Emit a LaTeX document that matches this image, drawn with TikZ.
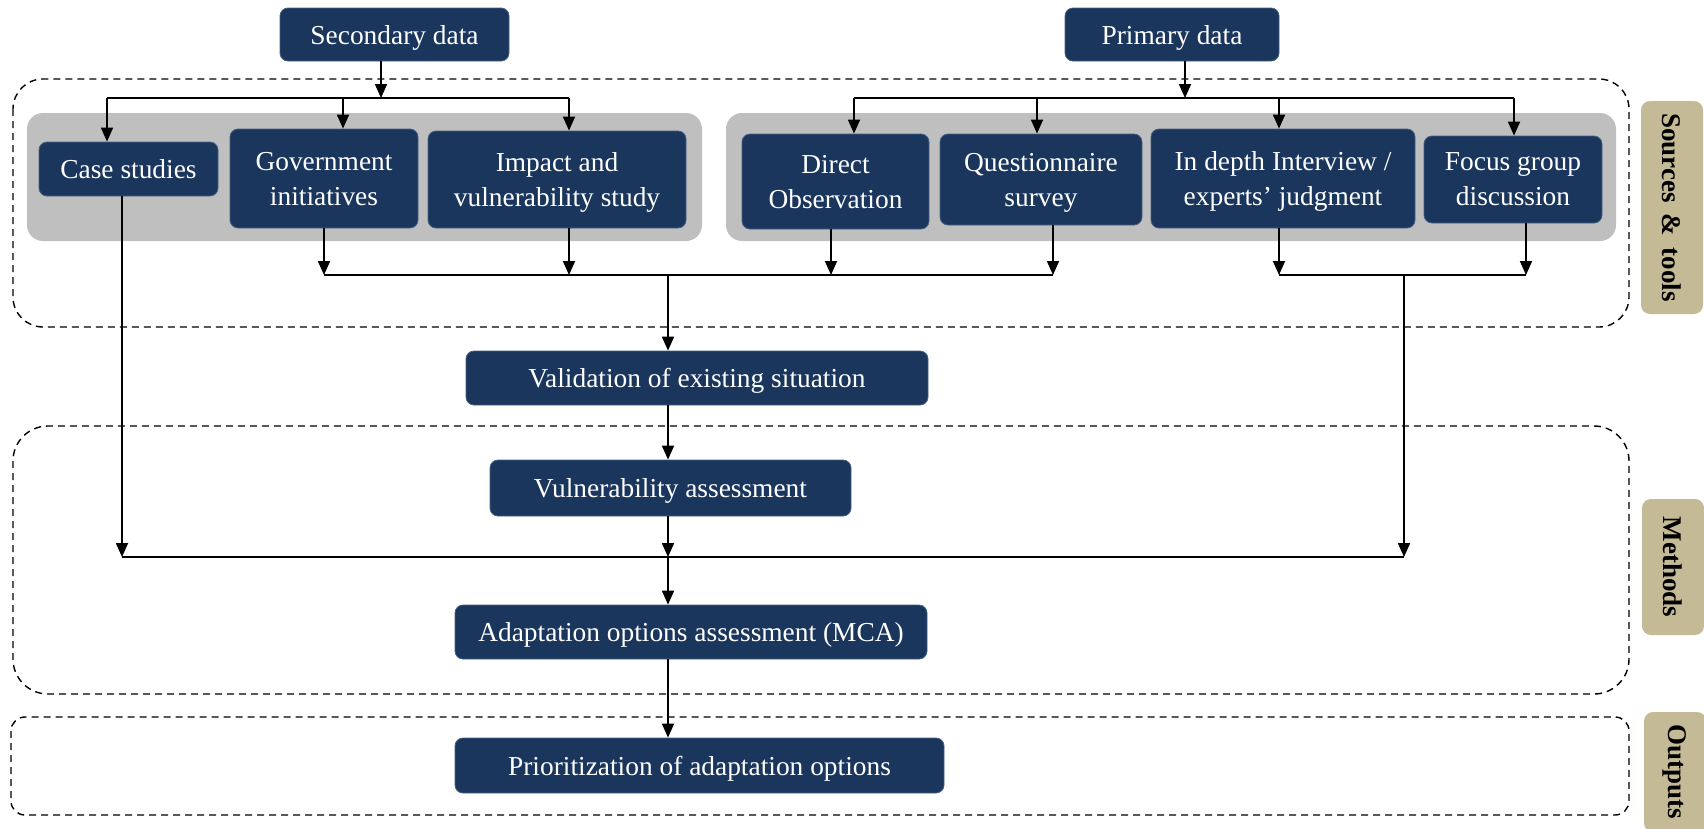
\documentclass[tikz,border=0pt]{standalone}
\usepackage{fontspec}
\setmainfont{Liberation Serif}
\usetikzlibrary{arrows.meta}
\definecolor{navy}{RGB}{26,54,93}
\definecolor{navyedge}{RGB}{70,95,130}
\definecolor{panelgrey}{RGB}{191,191,191}
\definecolor{tagtan}{RGB}{196,187,150}

\begin{document}
\begin{tikzpicture}[x=1pt,y=-1pt,
  box/.style={rectangle, rounded corners=8pt, fill=navy, draw=navyedge, line width=0.8pt,
    text=white, align=center, inner sep=0pt, text depth=0pt,
    font=\fontsize{27.4}{35}\selectfont},
  panel/.style={fill=panelgrey, rounded corners=16pt},
  zone/.style={draw=black, dash pattern=on 7pt off 5pt, line width=1.4pt},
  tag/.style={rectangle, rounded corners=9pt, fill=tagtan, rotate=-90, inner sep=0pt,
    minimum height=62pt, font=\fontsize{27}{32}\selectfont\bfseries},
  link/.style={line width=1.8pt},
  arr/.style={link, -{Triangle[length=14pt,width=12pt]}},
]
\useasboundingbox (0,0) rectangle (1704,828);
\clip (0,0) rectangle (1704,828);

% grey panels holding the source boxes
\fill[panel] (27,113) rectangle (702,241);
\fill[panel] (726,113) rectangle (1616,241);

% dashed zones
\draw[zone, rounded corners=30pt] (13,79) rectangle (1629,327);
\draw[zone, rounded corners=35pt] (13,426) rectangle (1629,694);
\draw[zone, rounded corners=14pt] (11,717) rectangle (1629,815);

% zone tags
\node[tag, minimum width=213pt] (tSrc) at (1672,207.5) {Sources \,\&\, tools};
\node[tag, minimum width=136pt] (tMet) at (1673,567) {Methods};
\node[tag, minimum width=120pt] (tOut) at (1675,772) {Outputs};

% data sources
\node[box, minimum width=229pt, minimum height=53pt] (sec) at (394.5,34.5) {Secondary data};
\node[box, minimum width=214pt, minimum height=53pt] (pri) at (1172,34.5) {Primary data};

\node[box, minimum width=179pt, minimum height=54pt] (case) at (128.5,169) {Case studies};
\node[box, minimum width=188pt, minimum height=99pt] (gov) at (324,178.5) {Government\\initiatives};
\node[box, minimum width=258pt, minimum height=97pt] (imp) at (557,179.5) {Impact and\\vulnerability study};

\node[box, minimum width=187pt, minimum height=95pt] (dir) at (835.5,181.5) {Direct\\Observation};
\node[box, minimum width=202pt, minimum height=91pt] (que) at (1041,179.5) {Questionnaire\\survey};
\node[box, minimum width=264pt, minimum height=99pt] (int) at (1283,178.5) {In depth Interview /\\experts' judgment};
\node[box, minimum width=178pt, minimum height=87pt] (foc) at (1513,179.5) {Focus group\\discussion};

% process steps
\node[box, minimum width=462pt, minimum height=54pt] (val) at (697,378) {Validation of existing situation};
\node[box, minimum width=361pt, minimum height=56pt] (vul) at (670.5,488) {Vulnerability assessment};
\node[box, minimum width=472pt, minimum height=54pt] (ada) at (691,632) {Adaptation options assessment (MCA)};
\node[box, minimum width=489pt, minimum height=55pt] (pio) at (699.5,765.5) {Prioritization of adaptation options};

% junction points of the connector buses
\coordinate (sbIn) at (381,98);
\coordinate (sbL) at (107,98);
\coordinate (sbG) at (343,98);
\coordinate (sbR) at (569,98);

\coordinate (pbIn) at (1185,98);
\coordinate (pbL) at (854,98);
\coordinate (pbQ) at (1037,98);
\coordinate (pbI) at (1279,98);
\coordinate (pbR) at (1514,98);

\coordinate (lbL) at (324,275);
\coordinate (lbI) at (569,275);
\coordinate (lbD) at (831,275);
\coordinate (lbR) at (1053,275);
\coordinate (lbOut) at (668,275);

\coordinate (rbL) at (1279,275);
\coordinate (rbR) at (1526,275);
\coordinate (rbOut) at (1404,275);

\coordinate (mbL) at (122,557);
\coordinate (mbC) at (668,557);
\coordinate (mbR) at (1404,557);

% secondary data fan-out
\draw[arr] (sec.south -| sbIn) -- (sbIn);
\draw[link] (sbL) -- (sbR);
\draw[arr] (sbL) -- (sbL |- case.north);
\draw[arr] (sbG) -- (sbG |- gov.north);
\draw[arr] (sbR) -- (sbR |- imp.north);

% primary data fan-out
\draw[arr] (pri.south -| pbIn) -- (pbIn);
\draw[link] (pbL) -- (pbR);
\draw[arr] (pbL) -- (pbL |- dir.north);
\draw[arr] (pbQ) -- (pbQ |- que.north);
\draw[arr] (pbI) -- (pbI |- int.north);
\draw[arr] (pbR) -- (pbR |- foc.north);

% sources gathered for validation
\draw[arr] (gov.south -| lbL) -- (lbL);
\draw[arr] (imp.south -| lbI) -- (lbI);
\draw[arr] (dir.south -| lbD) -- (lbD);
\draw[arr] (que.south -| lbR) -- (lbR);
\draw[link] (lbL) -- (lbR);
\draw[arr] (lbOut) -- (lbOut |- val.north);

% interview and focus group bus
\draw[arr] (int.south -| rbL) -- (rbL);
\draw[arr] (foc.south -| rbR) -- (rbR);
\draw[link] (rbL) -- (rbR);
\draw[arr] (rbOut) -- (mbR);

% main flow
\draw[arr] (val.south -| mbC) -- (vul.north -| mbC);
\draw[arr] (vul.south -| mbC) -- (mbC);
\draw[arr] (case.south -| mbL) -- (mbL);
\draw[link] (mbL) -- (mbR);
\draw[arr] (mbC) -- (ada.north -| mbC);
\draw[arr] (ada.south -| mbC) -- (pio.north -| mbC);
\end{tikzpicture}
\end{document}
